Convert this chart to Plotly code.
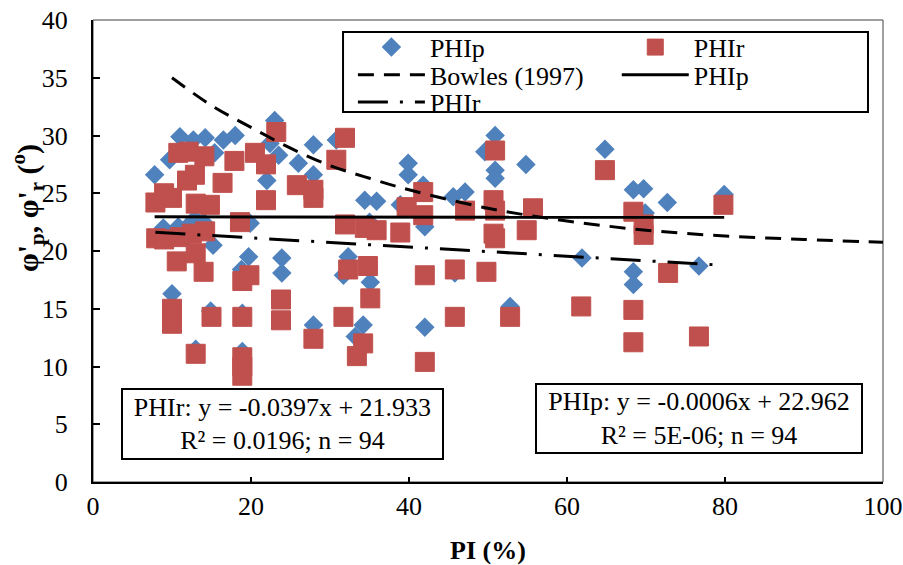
import plotly.graph_objects as go

# ---- data ----
phip_x = [7.8, 9.7, 11.0, 12.7, 14.2, 15.4, 16.5, 18.0, 22.4, 23.0, 22.0, 8.9, 10.8, 11.9, 12.9,
          15.2, 19.9, 19.7, 23.9, 23.9, 10.0, 14.9, 18.9, 18.8, 13.0, 18.9, 27.9, 26.0, 27.9, 30.8,
          39.9, 39.9, 34.4, 35.9, 38.9, 41.8, 42.0, 45.6, 47.1, 50.9, 49.6, 50.9, 50.9, 32.3, 31.7,
          35.1, 27.9, 34.2, 33.2, 42.0, 45.8, 54.8, 64.8, 68.4, 69.7, 72.7, 79.9, 69.9, 61.9, 68.4,
          68.4, 76.7, 52.8, 35.0, 14.0, 23.5, 31.9]
phip_y = [26.6, 27.9, 29.9, 29.6, 29.8, 28.5, 29.6, 30.0, 29.3, 31.3, 26.1, 22.0, 22.1, 22.1, 22.8,
          20.5, 22.4, 19.5, 19.4, 18.1, 16.3, 14.8, 14.6, 18.4, 11.5, 11.3, 29.2, 27.6, 26.6, 29.6,
          27.6, 26.6, 24.4, 24.3, 24.0, 25.7, 22.1, 24.7, 25.1, 30.0, 28.6, 27.0, 26.3, 19.5, 17.9,
          17.3, 13.6, 13.6, 12.6, 13.4, 18.1, 27.5, 28.8, 25.3, 25.4, 24.2, 24.9, 23.3, 19.4, 18.2,
          17.1, 18.7, 15.2, 22.5, 22.5, 28.3, 29.8]

phir_x = [7.9, 9.0, 10.0, 10.8, 12.1, 11.9, 12.9, 14.1, 13.0, 14.8, 16.4, 17.9, 20.5, 21.9, 21.9,
          23.2, 18.6, 8.0, 9.0, 11.0, 12.5, 14.2, 10.6, 13.0, 14.0, 18.9, 19.8, 23.8, 23.8, 10.0,
          10.0, 15.0, 13.0, 18.9, 18.9, 18.9, 18.9, 27.9, 31.9, 30.8, 25.8, 27.9, 27.9, 41.8, 39.7,
          41.8, 47.1, 50.7, 50.7, 50.9, 31.9, 34.4, 35.9, 38.9, 32.3, 34.8, 35.1, 31.7, 34.2, 33.4,
          42.0, 45.8, 49.8, 45.8, 42.0, 64.8, 50.9, 55.7, 68.4, 69.7, 69.7, 79.8, 54.9, 50.9, 72.8,
          61.8, 68.4, 52.8, 68.4, 76.7]
phir_y = [24.2, 25.0, 24.6, 28.5, 28.6, 26.1, 26.6, 28.2, 24.1, 24.0, 25.9, 27.8, 28.5, 27.5, 24.4,
          30.3, 22.5, 21.1, 21.0, 21.2, 21.5, 21.7, 19.1, 19.8, 18.2, 17.4, 17.9, 15.8, 14.0, 15.0,
          13.7, 14.3, 11.1, 14.3, 10.8, 10.0, 9.2, 12.4, 29.8, 27.9, 25.7, 25.3, 24.6, 25.1, 23.8,
          23.1, 23.5, 24.4, 21.5, 28.7, 22.3, 22.0, 21.8, 21.6, 18.4, 18.7, 15.9, 14.3, 12.0, 10.9,
          17.9, 18.4, 18.2, 14.3, 10.4, 27.0, 23.5, 23.7, 23.4, 22.3, 21.4, 24.0, 21.8, 21.1, 18.1,
          15.2, 14.9, 14.3, 12.1, 12.6]

bowles_x = [10, 15, 20, 25, 30, 35, 40, 50, 60, 70, 80, 90, 100]
bowles_y = [35.0, 32.6, 30.7, 28.9, 27.4, 26.3, 25.3, 23.7, 22.6, 21.8, 21.3, 21.0, 20.75]

# regression coefficients (as printed on the chart)
phip_slope, phip_int = -0.0006, 22.962
phir_slope, phir_int = -0.0397, 21.933

x_ticks = [0, 20, 40, 60, 80, 100]
y_ticks = [0, 5, 10, 15, 20, 25, 30, 35, 40]

FONT = "Liberation Serif, Times New Roman, serif"
BLUE = "#4F81BD"
RED = "#C0504D"

fig = go.Figure()

fig.add_trace(go.Scatter(x=phip_x, y=phip_y, mode="markers", name="PHIp",
                         marker=dict(symbol="diamond", size=15, color=BLUE,
                                     line=dict(width=0)),
                         legend="legend"))
fig.add_trace(go.Scatter(x=phir_x, y=phir_y, mode="markers", name="PHIr",
                         marker=dict(symbol="square", size=19, color=RED,
                                     line=dict(width=1, color=RED)),
                         legend="legend2"))
fig.add_trace(go.Scatter(x=bowles_x, y=bowles_y, mode="lines", name="Bowles (1997)",
                         line=dict(color="black", width=3, dash="16px,10px", shape="spline"),
                         legend="legend3"))

px0, px1 = min(phip_x), max(phip_x)
fig.add_trace(go.Scatter(x=[px0, px1],
                         y=[phip_slope * px0 + phip_int, phip_slope * px1 + phip_int],
                         mode="lines", name="PHIp",
                         line=dict(color="black", width=3), legend="legend4"))
rx0, rx1 = min(phir_x), max(phir_x)
fig.add_trace(go.Scatter(x=[rx0, rx1],
                         y=[phir_slope * rx0 + phir_int, phir_slope * rx1 + phir_int],
                         mode="lines", name="PHIr",
                         line=dict(color="black", width=3, dash="30px,12px,3px,12px"),
                         legend="legend5"))

def leg(x, y):
    return dict(x=x, y=y, xanchor="left", yanchor="top", bgcolor="rgba(0,0,0,0)",
                borderwidth=0, font=dict(family=FONT, size=26, color="black"),
                itemwidth=67, tracegroupgap=0)

fig.update_layout(
    width=903, height=565, autosize=False,
    margin=dict(l=93, r=20, t=20, b=83, autoexpand=False),
    paper_bgcolor="white", plot_bgcolor="white",
    font=dict(family=FONT, size=26, color="black"),
    showlegend=True,
    legend=leg(0.329, 0.992),
    legend2=leg(0.663, 0.992),
    legend3=leg(0.329, 0.932),
    legend4=leg(0.663, 0.932),
    legend5=leg(0.329, 0.873),
    xaxis=dict(range=[0, 100], tickvals=x_ticks, ticks="inside", ticklen=5, tickwidth=1.5,
               tickcolor="black", showline=True, linewidth=2, linecolor="black",
               showgrid=False, zeroline=False, ticklabelstandoff=0, automargin=False,
               tickfont=dict(family=FONT, size=26, color="black")),
    yaxis=dict(range=[0, 40], tickvals=y_ticks, ticks="inside", ticklen=7, tickwidth=1.5,
               tickcolor="black", showline=True, linewidth=2, linecolor="black",
               showgrid=False, zeroline=False, ticklabelstandoff=18, automargin=False,
               tickfont=dict(family=FONT, size=26, color="black")),
    shapes=[
        dict(type="rect", xref="paper", yref="paper", x0=0, x1=1, y0=0, y1=1,
             line=dict(color="#404040", width=1), layer="below"),
        dict(type="rect", xref="paper", yref="paper", x0=0.3165, x1=0.981, y0=0.801, y1=0.974,
             line=dict(color="black", width=2), fillcolor="white", layer="below"),
    ],
    annotations=[
        dict(text="PHIr: y = -0.0397x + 21.933<br>R² = 0.0196; n = 94",
             xref="paper", yref="paper", x=0.2399, y=0.1255, xanchor="center", yanchor="middle",
             showarrow=False, align="center", bgcolor="white", bordercolor="black",
             borderwidth=2, borderpad=2, width=315, height=64,
             font=dict(family=FONT, size=26, color="black")),
        dict(text="PHIp: y = -0.0006x + 22.962<br>R² = 5E-06; n = 94",
             xref="paper", yref="paper", x=0.767, y=0.137, xanchor="center", yanchor="middle",
             showarrow=False, align="center", bgcolor="white", bordercolor="black",
             borderwidth=2, borderpad=2, width=320, height=63,
             font=dict(family=FONT, size=26, color="black")),
        dict(text="<b>PI (%)</b>", xref="paper", yref="paper", x=0.5, y=(482 - 550) / 462,
             xanchor="center", yanchor="middle", showarrow=False,
             font=dict(family=FONT, size=26, color="black")),
        dict(text="<b>φ'<sub>p</sub>, φ'<sub>r</sub> (<sup>o</sup>)</b>", xref="paper", yref="paper",
             x=(27 - 93) / 790, y=0.593, xanchor="center", yanchor="middle", textangle=-90,
             showarrow=False, font=dict(family=FONT, size=30, color="black")),
    ],
)

fig.write_html("out.html", config={"displayModeBar": False},
               post_script="document.body.style.margin='0';")
